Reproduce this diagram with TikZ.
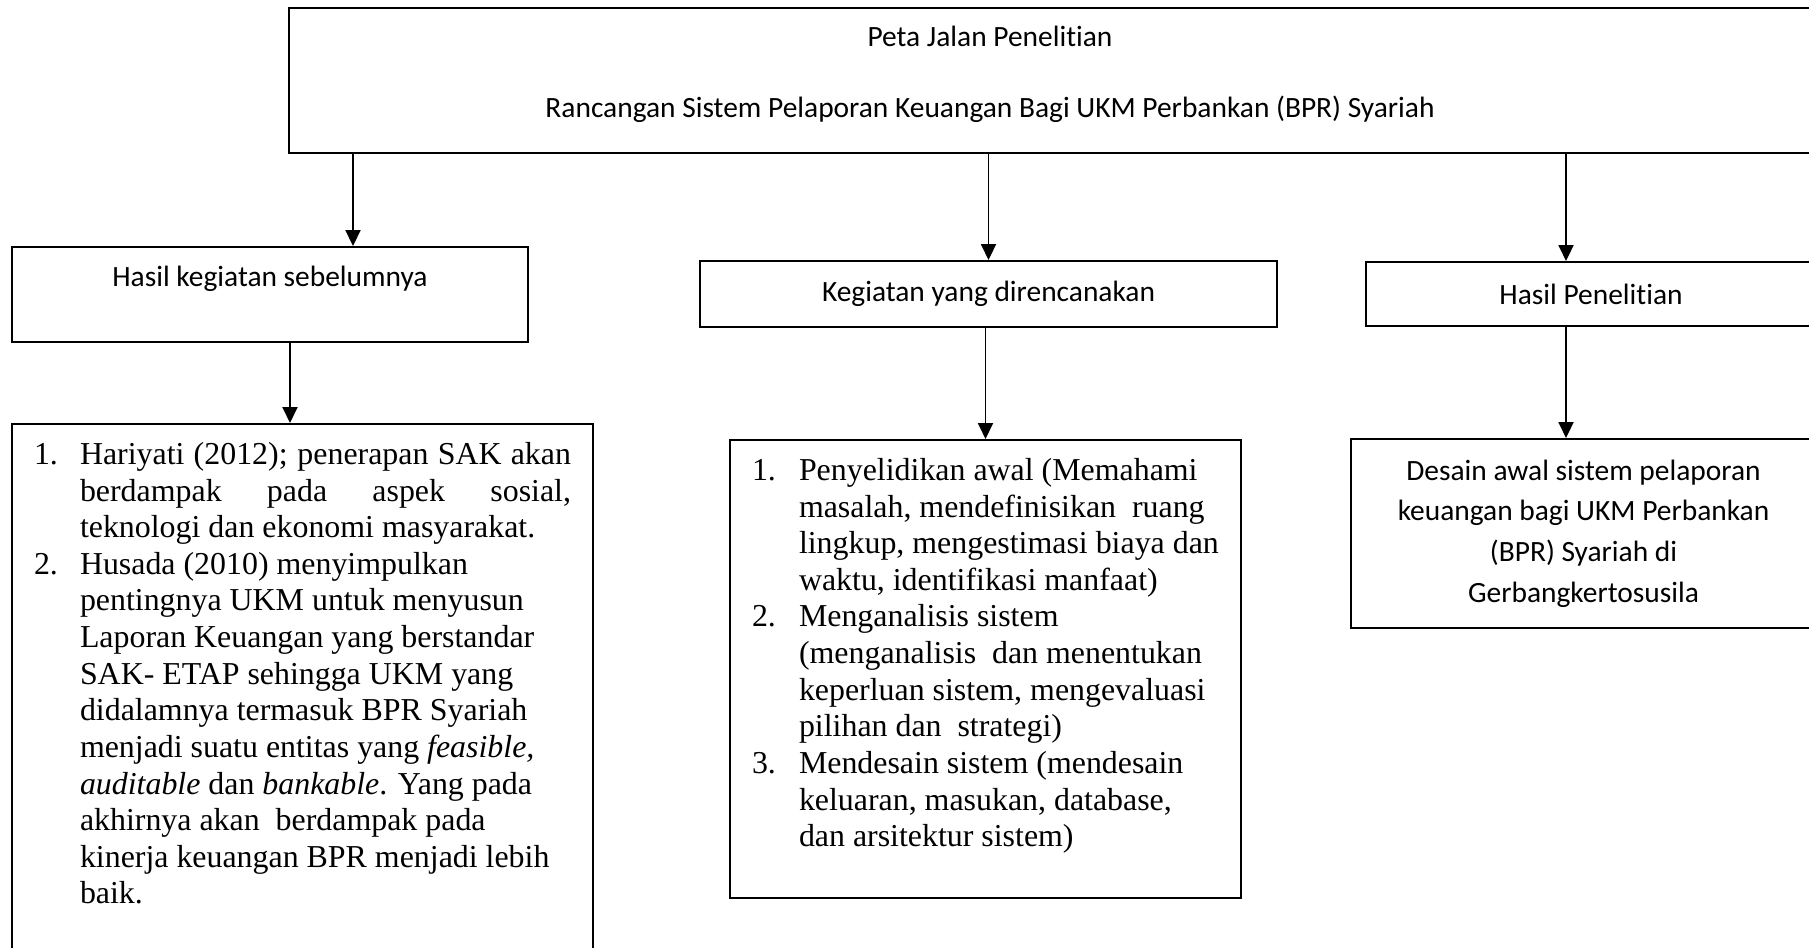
\documentclass[tikz,border=0pt]{standalone}
\usepackage{fontspec}
\setmainfont{Liberation Serif}
\newfontfamily\calibri[Ligatures=NoCommon]{Carlito}
\usetikzlibrary{arrows.meta}
\hyphenpenalty=10000

% numbered list used inside the lower boxes
\newenvironment{roadlist}[2][0pt]{%
  \begin{list}{\arabic{enumi}.}{\usecounter{enumi}%
    \setlength\leftmargin{#2}\setlength\labelwidth{#2}\setlength\labelsep{0pt}%
    \setlength\rightmargin{#1}\setlength\itemindent{0pt}%
    \setlength\itemsep{0pt}\setlength\parsep{0pt}%
    \setlength\topsep{0pt}\setlength\partopsep{0pt}%
    \renewcommand\makelabel[1]{##1\hfil}}}%
  {\end{list}}

\begin{document}
\begin{tikzpicture}[
    box/.style={draw, line width=1.1pt, inner sep=0pt},
    head/.style={box, align=center, font=\calibri\fontsize{16.75pt}{20.4pt}\selectfont},
    listbox/.style={box, anchor=north, inner xsep=0.44cm, inner ysep=0.08cm,
      font=\fontsize{18.15pt}{20.83pt}\selectfont},
    arr/.style={line width=1.1pt, -{Triangle[length=0.32cm,width=0.30cm]}}
  ]
  \useasboundingbox (0,0) rectangle (36.18,-18.94);

  % top box
  \node[box, anchor=north west, minimum width=31.24cm, minimum height=2.90cm] (roadmap) at (5.76,-0.14) {};
  \node[head, draw=none] (roadtitle) at (19.80,-1.49)
    {Peta Jalan Penelitian\\[20.1pt]Rancangan Sistem Pelaporan Keuangan Bagi UKM Perbankan (BPR) Syariah};

  % headings
  \node[head, minimum width=10.32cm, minimum height=1.90cm] (lhead) at (5.40,-5.89) {\strut Hasil kegiatan sebelumnya\\[-3.7pt]\strut};
  \node[head, minimum width=11.54cm, minimum height=1.32cm] (mhead) at (19.77,-5.88) {Kegiatan yang direncanakan};
  \node[head, minimum width=9.00cm, minimum height=1.28cm] (rhead) at (31.82,-5.88) {Hasil Penelitian};

  % lower boxes
  \node[listbox, text width=10.74cm, align=justify] (lbody) at (6.05,-8.46) {%
    \begin{roadlist}{0.92cm}
      \item Hariyati (2012); penerapan SAK akan\linebreak berdampak pada aspek sosial,\linebreak teknologi dan ekonomi masyarakat.
      \item Husada (2010) menyimpulkan\\ pentingnya UKM untuk menyusun\\ Laporan Keuangan yang berstandar\\
        SAK- ETAP sehingga UKM yang\\ didalamnya termasuk BPR Syariah\\ menjadi suatu entitas yang \textit{feasible,}\\
        \textit{auditable} dan \textit{bankable}. Yang pada\\ akhirnya akan\ \ berdampak pada\\
        kinerja keuangan BPR menjadi lebih\\ baik.
    \end{roadlist}
    \vspace{0.82cm}\kern0pt};
  \node[listbox, text width=9.34cm, align=justify] (mbody) at (19.71,-8.78) {%
    \begin{roadlist}[-0.4cm]{0.94cm}
      \item Penyelidikan awal (Memahami\\ masalah, mendefinisikan\ \ ruang\\ lingkup, mengestimasi biaya dan\\ waktu, identifikasi manfaat)
      \item Menganalisis sistem\\ (menganalisis\ \ dan menentukan\\ keperluan sistem, mengevaluasi\\ pilihan dan\ \ strategi)
      \item Mendesain sistem (mendesain\\ keluaran, masukan, database,\\ dan arsitektur sistem)
    \end{roadlist}
    \vspace{0.82cm}\kern0pt};
  \node[head, minimum width=9.30cm, minimum height=3.78cm, font=\calibri\fontsize{16.75pt}{23.16pt}\selectfont] (rbody) at (31.67,-10.67)
    {Desain awal sistem pelaporan\\ keuangan bagi UKM Perbankan\\ (BPR) Syariah di\\ Gerbangkertosusila};

  % connectors
  \coordinate (lstart) at ([xshift=1.66cm]lhead.north);
  \coordinate (rstart) at ([xshift=-0.50cm]rhead.north);
  \coordinate (lend) at ([xshift=-0.25cm]lbody.north);
  \coordinate (rend) at ([xshift=-0.35cm]rbody.north);
  \draw[arr] (lstart |- roadmap.south) -- (lstart);
  \draw[arr] (mhead.north |- roadmap.south) -- (mhead.north);
  \draw[arr] (rstart |- roadmap.south) -- (rstart);
  \draw[arr] (lend |- lhead.south) -- (lend);
  \draw[arr] (mbody.north |- mhead.south) -- (mbody.north);
  \draw[arr] (rend |- rhead.south) -- (rend);
\end{tikzpicture}
\end{document}
